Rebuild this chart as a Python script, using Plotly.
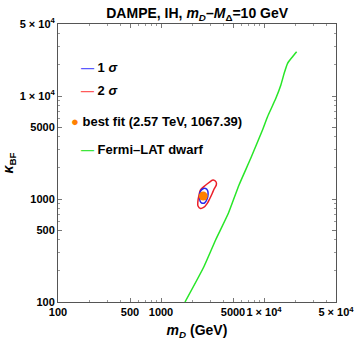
import plotly.graph_objects as go

# ---- data ----
fermi_m = [1710, 2608, 3390, 4508, 5720, 7435, 9670, 10820, 13032, 14580, 15700, 16943, 18960, 20740]
fermi_k = [100, 220, 400, 726, 1368, 2484, 4677, 6296, 9500, 12790, 16614, 20770, 24080, 26920]

sig2_m = [3219, 3428, 3443, 3277, 3148, 2963, 2814, 2590, 2421, 2288, 2279, 2341, 2421, 2649, 2963, 3219]
sig2_k = [1529, 1462, 1368, 1251, 1136, 1000, 908, 827, 809, 855, 941, 1094, 1223, 1337, 1462, 1529]

sig1_m = [2394, 2532, 2709, 2833, 2865, 2802, 2649, 2476, 2394, 2368, 2394]
sig1_k = [1170, 1251, 1265, 1209, 1118, 1000, 915, 915, 956, 1069, 1170]

best_m = [2570]
best_k = [1067.39]

tick_vals = [100, 500, 1000, 5000, 10000, 50000]
tick_text = ["100", "500", "1000", "5000", "1 × 10<sup>4</sup>", "5 × 10<sup>4</sup>"]
minor_vals = [m * 10**e for e in (2, 3, 4) for m in range(2, 10) if m * 10**e < 50000]

FONT = "Liberation Sans, Arial, sans-serif"
BLUE = "rgb(40,40,235)"
RED = "rgb(235,30,40)"
GREEN = "rgb(40,230,40)"
ORANGE = "rgb(255,128,0)"

fig = go.Figure()
fig.add_trace(go.Scatter(x=fermi_m, y=fermi_k, mode="lines",
                         line=dict(color=GREEN, width=1.5, shape="spline", smoothing=0.5), showlegend=False))
fig.add_trace(go.Scatter(x=sig2_m, y=sig2_k, mode="lines",
                         line=dict(color=RED, width=1.5, shape="spline", smoothing=1.0), showlegend=False))
fig.add_trace(go.Scatter(x=sig1_m, y=sig1_k, mode="lines",
                         line=dict(color=BLUE, width=1.5, shape="spline", smoothing=1.0), showlegend=False))
fig.add_trace(go.Scatter(x=best_m, y=best_k, mode="markers",
                         marker=dict(color=ORANGE, size=9), showlegend=False))

axis_common = dict(
    type="log",
    range=[2, 4.69897],
    tickvals=tick_vals,
    ticktext=tick_text,
    tickangle=0,
    ticklabeloverflow="allow",
    ticks="inside",
    ticklen=4,
    tickwidth=1,
    tickcolor="#777",
    showline=True,
    linecolor="#555",
    linewidth=1,
    mirror="ticks",
    showgrid=False,
    zeroline=False,
    automargin=False,
    tickfont=dict(family=FONT, size=11, color="black", weight="bold"),
    minor=dict(tickvals=minor_vals, ticks="inside", ticklen=2, tickcolor="#999", showgrid=False),
)

fig.update_layout(
    width=354, height=340,
    margin=dict(l=58, r=18, t=24, b=38),
    paper_bgcolor="white", plot_bgcolor="white",
    title=dict(text="DAMPE, IH, <i>m</i><sub><i>D</i></sub>–<i>M</i><sub>Δ</sub>=10 GeV",
               x=0.557, xanchor="center", y=0.962, yanchor="middle",
               font=dict(family=FONT, size=14, color="black", weight="bold")),
    xaxis=dict(axis_common,
               title=dict(text="<i>m</i><sub><i>D</i></sub> (GeV)", standoff=8,
                          font=dict(family=FONT, size=14, color="black", weight="bold"))),
    yaxis=dict(axis_common,
               title=dict(text="<i>κ</i><sub>BF</sub>", standoff=6,
                          font=dict(family=FONT, size=14, color="black", weight="bold"))),
)

legend_font = dict(family=FONT, size=13, color="black", weight="bold")
ann = [
    (0.075, 0.844, "<span style='color:rgb(90,90,255)'>—</span> 1 <i>σ</i>", 13),
    (0.075, 0.760, "<span style='color:rgb(255,90,90)'>—</span> 2 <i>σ</i>", 13),
    (0.040, 0.6486, f"<span style='color:{ORANGE}'>●</span> best fit (2.57 TeV, 1067.39)", 13),
    (0.075, 0.549, "<span style='color:rgb(60,230,60)'>—</span> Fermi–LAT dwarf", 13),
]
for x, y, t, s in ann:
    fig.add_annotation(xref="paper", yref="paper", x=x, y=y, xanchor="left", yanchor="middle",
                       text=t, showarrow=False, font=dict(legend_font, size=s))

fig.write_html("out.html", config={"displayModeBar": False},
               post_script="document.body.style.margin='0';document.body.style.padding='0';")
